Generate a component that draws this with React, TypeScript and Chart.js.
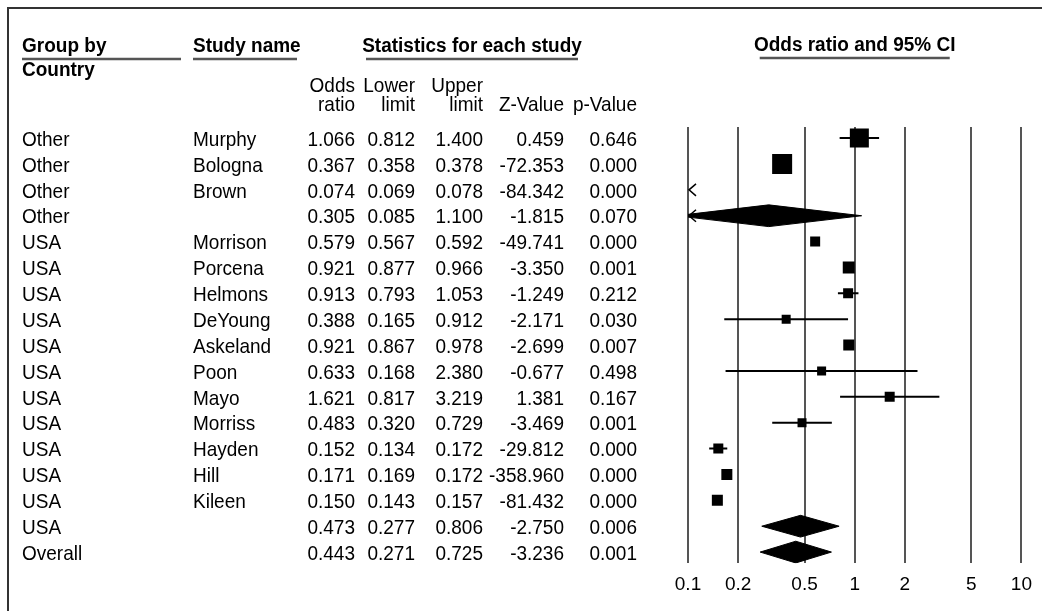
import React, { useEffect, useRef } from "react";
import { Chart, registerables } from "chart.js";

Chart.register(...registerables);

// ---------- data ----------
const groupNames = [
  "Other", "Other", "Other", "Other",
  "USA", "USA", "USA", "USA", "USA", "USA", "USA", "USA", "USA", "USA", "USA", "USA",
  "Overall",
];
const studyNames = [
  "Murphy", "Bologna", "Brown", "",
  "Morrison", "Porcena", "Helmons", "DeYoung", "Askeland", "Poon", "Mayo", "Morriss", "Hayden", "Hill", "Kileen", "",
  "",
];
const oddsRatios = [1.066, 0.367, 0.074, 0.305, 0.579, 0.921, 0.913, 0.388, 0.921, 0.633, 1.621, 0.483, 0.152, 0.171, 0.15, 0.473, 0.443];
const lowerLimits = [0.812, 0.358, 0.069, 0.085, 0.567, 0.877, 0.793, 0.165, 0.867, 0.168, 0.817, 0.32, 0.134, 0.169, 0.143, 0.277, 0.271];
const upperLimits = [1.4, 0.378, 0.078, 1.1, 0.592, 0.966, 1.053, 0.912, 0.978, 2.38, 3.219, 0.729, 0.172, 0.172, 0.157, 0.806, 0.725];
const zValues = [0.459, -72.353, -84.342, -1.815, -49.741, -3.35, -1.249, -2.171, -2.699, -0.677, 1.381, -3.469, -29.812, -358.96, -81.432, -2.75, -3.236];
const pValues = [0.646, 0.0, 0.0, 0.07, 0.0, 0.001, 0.212, 0.03, 0.007, 0.498, 0.167, 0.001, 0.0, 0.0, 0.0, 0.006, 0.001];
const summaryRows = [3, 15, 16];
// relative study weights (drive marker size)
const studyWeights = [0.95, 1.0, 0.6, 0, 0.5, 0.6, 0.5, 0.45, 0.55, 0.45, 0.5, 0.45, 0.5, 0.55, 0.55, 0, 0];
const xTickValues = [0.1, 0.2, 0.5, 1, 2, 5, 10];
const xTickLabels = ["0.1", "0.2", "0.5", "1", "2", "5", "10"];

// ---------- layout / style ----------
const W = 1042;
const H = 611;
const FONT = '"Liberation Sans", Arial, sans-serif';
const FS = 19;
const STRETCH = 1.1;
const COL_GROUP = 22;
const COL_STUDY = 193;
const COL_RIGHT = [355, 415, 483, 564, 637];
const MARK_UNIT = 20;
const DIAMOND_HALF = 0.42;

function drawText(ctx: CanvasRenderingContext2D, text: string, x: number, y: number, align: CanvasTextAlign, bold = false) {
  ctx.save();
  ctx.font = `${bold ? "bold " : ""}${FS}px ${FONT}`;
  ctx.fillStyle = "#000";
  ctx.textAlign = align;
  ctx.textBaseline = "middle";
  ctx.translate(x, y);
  ctx.scale(1, STRETCH);
  ctx.fillText(text, 0, 0);
  ctx.restore();
}

function hline(ctx: CanvasRenderingContext2D, x1: number, x2: number, y: number) {
  ctx.save();
  ctx.strokeStyle = "#555";
  ctx.lineWidth = 2.5;
  ctx.beginPath();
  ctx.moveTo(x1, y);
  ctx.lineTo(x2, y);
  ctx.stroke();
  ctx.restore();
}

const tablePlugin = {
  id: "forestTable",
  beforeDraw(chart: any) {
    const ctx: CanvasRenderingContext2D = chart.ctx;
    ctx.save();
    ctx.fillStyle = "#fff";
    ctx.fillRect(0, 0, W, H);
    // frame
    ctx.strokeStyle = "#333";
    ctx.lineWidth = 2;
    ctx.beginPath();
    ctx.moveTo(8, H);
    ctx.lineTo(8, 8);
    ctx.lineTo(W, 8);
    ctx.stroke();
    ctx.restore();

    // headers
    drawText(ctx, "Group by", COL_GROUP, 46, "left", true);
    hline(ctx, COL_GROUP, 181, 59);
    drawText(ctx, "Country", COL_GROUP, 70, "left", true);
    drawText(ctx, "Study name", COL_STUDY, 46, "left", true);
    hline(ctx, COL_STUDY, 297, 59);
    drawText(ctx, "Statistics for each study", 472, 46, "center", true);
    hline(ctx, 366, 578, 59);
    const area = chart.chartArea;
    const midX = (area.left + area.right) / 2;
    drawText(ctx, "Odds ratio and 95% CI", midX, 45, "center", true);
    hline(ctx, midX - 95, midX + 95, 58);

    const h1 = ["Odds", "Lower", "Upper"];
    const h2 = ["ratio", "limit", "limit", "Z-Value", "p-Value"];
    h1.forEach((t, i) => drawText(ctx, t, COL_RIGHT[i], 86, "right"));
    h2.forEach((t, i) => drawText(ctx, t, COL_RIGHT[i], 105, "right"));

    // rows
    const yScale = chart.scales.y;
    groupNames.forEach((g, i) => {
      const y = yScale.getPixelForValue(i) + 2;
      drawText(ctx, g, COL_GROUP, y, "left");
      drawText(ctx, studyNames[i], COL_STUDY, y, "left");
      const vals = [oddsRatios[i], lowerLimits[i], upperLimits[i], zValues[i], pValues[i]];
      vals.forEach((v, k) => drawText(ctx, v.toFixed(3), COL_RIGHT[k], y, "right"));
    });
  },
  afterDatasetsDraw(chart: any) {
    const ctx: CanvasRenderingContext2D = chart.ctx;
    const xScale = chart.scales.x;
    const yScale = chart.scales.y;
    const xMin = xTickValues[0];
    const x0 = xScale.getPixelForValue(xMin);
    ctx.save();
    ctx.strokeStyle = "#000";
    ctx.lineWidth = 1.5;
    lowerLimits.forEach((lo, i) => {
      if (lo < xMin) {
        const y = yScale.getPixelForValue(i);
        ctx.beginPath();
        ctx.moveTo(x0 + 8, y - 6);
        ctx.lineTo(x0 + 1, y);
        ctx.lineTo(x0 + 8, y + 6);
        ctx.stroke();
      }
    });
    ctx.restore();
  },
};

export default function App() {
  const ref = useRef<HTMLCanvasElement | null>(null);
  useEffect(() => {
    if (!ref.current) return;
    const datasets: any[] = [];
    // confidence interval lines
    oddsRatios.forEach((_, i) => {
      if (summaryRows.includes(i)) return;
      datasets.push({
        data: [
          { x: lowerLimits[i], y: i },
          { x: upperLimits[i], y: i },
        ],
        showLine: true,
        borderColor: "#000",
        borderWidth: 2,
        pointRadius: 0,
        order: 2,
      });
    });
    // summary diamonds
    summaryRows.forEach((i) => {
      datasets.push({
        data: [
          { x: lowerLimits[i], y: i },
          { x: oddsRatios[i], y: i - DIAMOND_HALF },
          { x: upperLimits[i], y: i },
          { x: oddsRatios[i], y: i + DIAMOND_HALF },
          { x: lowerLimits[i], y: i },
        ],
        showLine: true,
        fill: "shape",
        backgroundColor: "#000",
        borderColor: "#000",
        borderWidth: 1,
        pointRadius: 0,
        tension: 0,
        order: 1,
      });
    });
    // study squares
    const studyIdx = oddsRatios.map((_, i) => i).filter((i) => !summaryRows.includes(i));
    datasets.push({
      data: studyIdx.map((i) => ({ x: oddsRatios[i], y: i })),
      pointStyle: "rect",
      pointRadius: (c: any) => (studyWeights[studyIdx[c.dataIndex]] * MARK_UNIT) / (2 * Math.SQRT1_2),
      backgroundColor: "#000",
      borderColor: "#000",
      borderWidth: 0,
      order: 0,
    });

    const chart = new Chart(ref.current, {
      type: "scatter",
      data: { datasets },
      options: {
        animation: false,
        responsive: false,
        devicePixelRatio: 1,
        layout: { padding: { left: 688, right: 18, top: 127, bottom: 5 } },
        plugins: { legend: { display: false }, tooltip: { enabled: false } },
        scales: {
          x: {
            type: "logarithmic",
            min: 0.1,
            max: 10,
            afterBuildTicks: (scale: any) => {
              scale.ticks = xTickValues.map((v) => ({ value: v }));
            },
            grid: { color: "#555", lineWidth: 2, drawTicks: false },
            border: { display: false },
            ticks: {
              autoSkip: false,
              maxRotation: 0,
              padding: 10,
              color: "#000",
              font: { family: FONT, size: FS },
              callback: (v: any) => {
                const k = xTickValues.indexOf(Number(v));
                return k >= 0 ? xTickLabels[k] : "";
              },
            },
          },
          y: {
            type: "linear",
            min: -0.43,
            max: groupNames.length - 1 + 0.43,
            reverse: true,
            display: false,
          },
        },
      },
      plugins: [tablePlugin],
    });
    return () => chart.destroy();
  }, []);
  return (
    <div style={{ position: "absolute", left: 0, top: 0, width: W, height: H }}>
      <canvas ref={ref} width={W} height={H} style={{ width: W, height: H }} />
    </div>
  );
}
